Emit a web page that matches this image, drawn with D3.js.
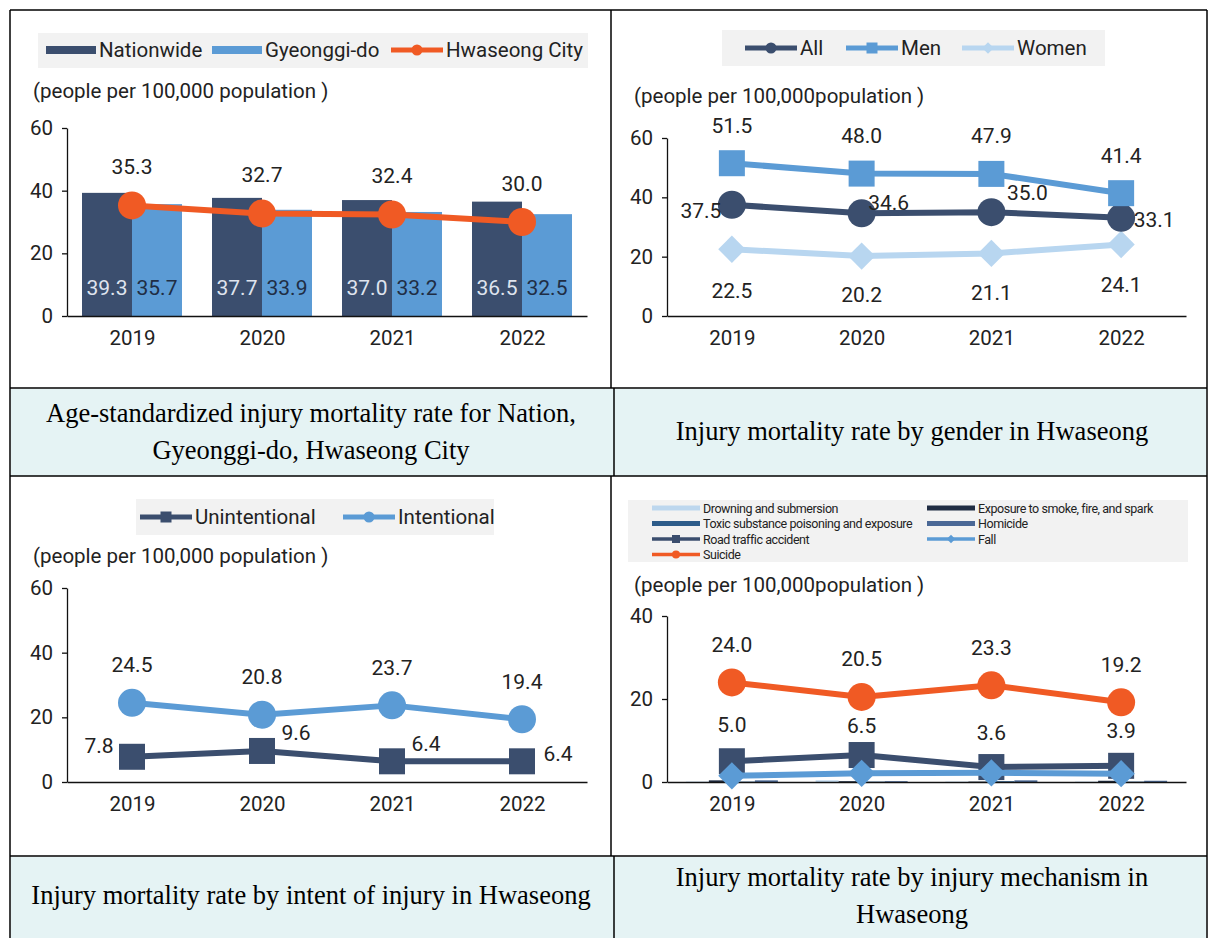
<!DOCTYPE html>
<html>
<head>
<meta charset="utf-8">
<script src="https://cdn.jsdelivr.net/npm/d3@7"></script>
<style>
  body { margin: 0; background: #fff; }
  svg text { font-family: Roboto, "Noto Sans", sans-serif; }
  .cap { font-family: "Liberation Serif", "Times New Roman", serif !important; font-size: 26.5px; fill: #000; }
</style>
</head>
<body>
<svg id="chart" width="1208" height="938"></svg>
<script>
// ---- data ----
var years = ["2019", "2020", "2021", "2022"];

// panel 1 : nation / gyeonggi / hwaseong
var nationwide = [39.3, 37.7, 37.0, 36.5];
var gyeonggi = [35.7, 33.9, 33.2, 32.5];
var hwaseong = [35.3, 32.7, 32.4, 30.0];

// panel 2 : by gender
var allRate = [37.5, 34.6, 35.0, 33.1];
var menRate = [51.5, 48.0, 47.9, 41.4];
var womenRate = [22.5, 20.2, 21.1, 24.1];

// panel 3 : by intent
var unintentional = [7.8, 9.6, 6.4, 6.4];
var intentional = [24.5, 20.8, 23.7, 19.4];

// panel 4 : by mechanism
var drowning = [0.1, 0.4, 0.1, 0.1];
var exposure = [0.4, 0.2, 0.1, 0.3];
var toxic = [0.1, 0.1, 0.2, 0.1];
var homicide = [0.4, 0.2, 0.4, 0.3];
var roadTraffic = [5.0, 6.5, 3.6, 3.9];
var fall = [1.5, 2.1, 2.2, 2.0];
var suicide = [24.0, 20.5, 23.3, 19.2];

var ticks60 = [0, 20, 40, 60];
var ticks40 = [0, 20, 40];

var DARK = "#3b4e6e", BLUE = "#5b9bd5", LIGHT = "#b8d6f0", ORANGE = "#f05a24";
var FS = 20.5;

var svg = d3.select("#chart");

// ---- table frame ----
svg.append("rect").attr("x", 11).attr("y", 389).attr("width", 1195).attr("height", 87).attr("fill", "#e5f3f4");
svg.append("rect").attr("x", 11).attr("y", 857).attr("width", 1195).attr("height", 81).attr("fill", "#e5f3f4");

var frame = svg.append("g").attr("stroke", "#000").attr("stroke-width", 1.5);
[[10, 10, 1207, 10], [10, 388, 1207, 388], [10, 476, 1207, 476], [10, 856, 1207, 856],
 [10, 10, 10, 938], [1207, 10, 1207, 938],
 [611, 10, 611, 388], [614, 388, 614, 476], [611, 476, 611, 856], [614, 856, 614, 938]]
  .forEach(function(l) {
    frame.append("line").attr("x1", l[0]).attr("y1", l[1]).attr("x2", l[2]).attr("y2", l[3]);
  });

// captions
function caption(lines, cx, cy) {
  var t = svg.append("text").attr("class", "cap").attr("text-anchor", "middle");
  lines.forEach(function(s, i) {
    t.append("tspan").attr("x", cx).attr("y", cy + (i - (lines.length - 1) / 2) * 37 + 8).text(s);
  });
}
caption(["Age-standardized injury mortality rate for Nation,", "Gyeonggi-do, Hwaseong City"], 311, 432);
caption(["Injury mortality rate by gender in Hwaseong"], 912, 432);
caption(["Injury mortality rate by intent of injury in Hwaseong"], 311, 896);
caption(["Injury mortality rate by injury mechanism in", "Hwaseong"], 912, 896);

// ---- helpers ----
function diamondPath(r) {
  return "M0," + (-r) + "L" + r + ",0L0," + r + "L" + (-r) + ",0Z";
}
function marker(g, type, x, y, r, color) {
  if (type == "circle") {
    g.append("circle").attr("cx", x).attr("cy", y).attr("r", r).attr("fill", color);
  } else if (type == "square") {
    g.append("rect").attr("x", x - r).attr("y", y - r).attr("width", 2 * r).attr("height", 2 * r).attr("fill", color);
  } else {
    g.append("path").attr("d", diamondPath(r * 1.05)).attr("transform", "translate(" + x + "," + y + ")").attr("fill", color);
  }
}

function axes(g, x, y, ticks) {
  var ya = g.append("g")
    .attr("transform", "translate(" + x.range()[0] + ",0)")
    .call(d3.axisLeft(y).tickValues(ticks).tickSize(5).tickSizeOuter(0).tickPadding(9));
  ya.selectAll("text").attr("font-size", FS).attr("fill", "#222");
  ya.selectAll("line, path").attr("stroke", "#111").attr("stroke-width", 1.3);

  var xa = g.append("g")
    .attr("transform", "translate(0," + y(0) + ")")
    .call(d3.axisBottom(x).tickSize(0).tickPadding(14));
  xa.selectAll("text").attr("font-size", FS).attr("fill", "#222");
  xa.select("path").attr("stroke", "#111").attr("stroke-width", 1.5);
}

function unitLabel(g, x, y, txt) {
  g.append("text").attr("x", x).attr("y", y).attr("font-size", FS).attr("fill", "#222").text(txt);
}

function series(g, x, y, vals, color, type, r, offs) {
  var line = d3.line()
    .x(function(d, i) { return x(years[i]); })
    .y(function(d) { return y(d); });
  g.append("path").datum(vals).attr("d", line)
    .attr("fill", "none").attr("stroke", color).attr("stroke-width", 6).attr("stroke-linejoin", "round");
  vals.forEach(function(v, i) {
    marker(g, type, x(years[i]), y(v), r, color);
  });
  if (offs) {
    g.selectAll(null).data(vals).enter().append("text")
      .attr("x", function(d, i) { return x(years[i]) + offs[i][0]; })
      .attr("y", function(d, i) { return y(d) + offs[i][1] + 7.5; })
      .attr("text-anchor", "middle").attr("font-size", 21).attr("fill", "#222")
      .text(function(d) { return d.toFixed(1); });
  }
}

function legendBox(g, x0, y0, w, h) {
  g.append("rect").attr("x", x0).attr("y", y0).attr("width", w).attr("height", h).attr("fill", "#f2f2f2");
}
function legendLine(g, x0, cy, color, type, label, fs, len, mr, sw) {
  len = len || 52; mr = mr || 5.5; fs = fs || FS; sw = sw || 5;
  g.append("line").attr("x1", x0).attr("x2", x0 + len).attr("y1", cy).attr("y2", cy)
    .attr("stroke", color).attr("stroke-width", sw);
  if (type) marker(g, type, x0 + len / 2, cy, mr, color);
  g.append("text").attr("x", x0 + len + 3).attr("y", cy + fs * 0.36).attr("font-size", fs).attr("fill", "#222").text(label);
}
function legendSwatch(g, x0, cy, color, label, fs, len, hgt) {
  len = len || 50; fs = fs || FS; hgt = hgt || 8;
  g.append("rect").attr("x", x0).attr("y", cy - hgt / 2).attr("width", len).attr("height", hgt).attr("fill", color);
  g.append("text").attr("x", x0 + len + 3).attr("y", cy + fs * 0.36).attr("font-size", fs).attr("fill", "#222").text(label);
}

// ---- panel 1 ----
(function() {
  var g = svg.append("g");
  var x = d3.scalePoint().domain(years).range([67, 587]).padding(0.5);
  var y = d3.scaleLinear().domain([0, 60]).range([316, 128]);
  legendBox(g, 38, 33, 550, 35);
  legendSwatch(g, 46, 50, DARK, "Nationwide");
  legendSwatch(g, 212, 50, BLUE, "Gyeonggi-do");
  legendLine(g, 391, 50, ORANGE, "circle", "Hwaseong City");
  unitLabel(g, 33, 98, "(people per 100,000 population )");

  var bw = 50;
  var bars = [{ vals: nationwide, color: DARK, dx: -bw, tc: "#dfe4ee" },
              { vals: gyeonggi, color: BLUE, dx: 0, tc: "#1f2d44" }];
  bars.forEach(function(b) {
    g.selectAll(null).data(b.vals).enter().append("rect")
      .attr("x", function(d, i) { return x(years[i]) + b.dx; })
      .attr("y", function(d) { return y(d); })
      .attr("width", bw)
      .attr("height", function(d) { return y(0) - y(d); })
      .attr("fill", b.color);
    g.selectAll(null).data(b.vals).enter().append("text")
      .attr("x", function(d, i) { return x(years[i]) + b.dx + bw / 2; })
      .attr("y", y(0) - 21)
      .attr("text-anchor", "middle").attr("font-size", 21).attr("fill", b.tc)
      .text(function(d) { return d.toFixed(1); });
  });
  axes(g, x, y, ticks60);
  series(g, x, y, hwaseong, ORANGE, "circle", 14, [[0, -39], [0, -39], [0, -39], [0, -39]]);
})();

// ---- panel 2 ----
(function() {
  var g = svg.append("g");
  var x = d3.scalePoint().domain(years).range([667, 1186]).padding(0.5);
  var y = d3.scaleLinear().domain([0, 60]).range([316, 138]);
  legendBox(g, 722, 30, 383, 36);
  legendLine(g, 745, 48, DARK, "circle", "All");
  legendLine(g, 846, 48, BLUE, "square", "Men");
  legendLine(g, 962, 48, LIGHT, "diamond", "Women");
  unitLabel(g, 634, 103, "(people per 100,000population )");
  axes(g, x, y, ticks60);
  series(g, x, y, womenRate, LIGHT, "diamond", 13, [[0, 41], [0, 38], [0, 39], [0, 40]]);
  series(g, x, y, allRate, DARK, "circle", 14, [[-31, 6], [27, -11], [36, -20], [33, 2]]);
  series(g, x, y, menRate, BLUE, "square", 13, [[0, -38], [0, -38], [0, -38], [0, -38]]);
})();

// ---- panel 3 ----
(function() {
  var g = svg.append("g");
  var x = d3.scalePoint().domain(years).range([67, 587]).padding(0.5);
  var y = d3.scaleLinear().domain([0, 60]).range([782, 588]);
  legendBox(g, 136, 499, 358, 36);
  legendLine(g, 140, 517, DARK, "square", "Unintentional");
  legendLine(g, 343, 517, BLUE, "circle", "Intentional");
  unitLabel(g, 33, 563, "(people per 100,000 population )");
  axes(g, x, y, ticks60);
  series(g, x, y, intentional, BLUE, "circle", 14, [[0, -38], [0, -38], [0, -38], [0, -38]]);
  series(g, x, y, unintentional, DARK, "square", 13, [[-33, -11], [34, -18], [34, -18], [36, -8]]);
})();

// ---- panel 4 ----
(function() {
  var g = svg.append("g");
  var x = d3.scalePoint().domain(years).range([667, 1186]).padding(0.5);
  var y = d3.scaleLinear().domain([0, 40]).range([782, 616]);
  legendBox(g, 628, 500, 560, 62);
  var fs = 12.5;
  var items = [
    { c: 0, r: 0, label: "Drowning and submersion", color: "#bdd7ee" },
    { c: 1, r: 0, label: "Exposure to smoke, fire, and spark", color: "#1f2c42" },
    { c: 0, r: 1, label: "Toxic substance poisoning and exposure", color: "#2d5c8a" },
    { c: 1, r: 1, label: "Homicide", color: "#4a6896" },
    { c: 0, r: 2, label: "Road traffic accident", color: DARK, type: "square" },
    { c: 1, r: 2, label: "Fall", color: BLUE, type: "diamond" },
    { c: 0, r: 3, label: "Suicide", color: ORANGE, type: "circle" }
  ];
  items.forEach(function(it) {
    var x0 = it.c == 0 ? 652 : 927;
    var cy = 508 + it.r * 15.5;
    var lg = g.append("g").attr("letter-spacing", -0.45);
    if (it.type) legendLine(lg, x0, cy, it.color, it.type, it.label, fs, 48, 4, 3.5);
    else legendSwatch(lg, x0, cy, it.color, it.label, fs, 48, 5);
  });
  unitLabel(g, 634, 592, "(people per 100,000population )");

  var bw = 23;
  var barSets = [{ vals: drowning, color: "#bdd7ee" }, { vals: exposure, color: "#1f2c42" },
                 { vals: toxic, color: "#2d5c8a" }, { vals: homicide, color: "#4a6896" }];
  barSets.forEach(function(b, k) {
    g.selectAll(null).data(b.vals).enter().append("rect")
      .attr("x", function(d, i) { return x(years[i]) - 2 * bw + k * bw; })
      .attr("y", function(d) { return y(d); })
      .attr("width", bw)
      .attr("height", function(d) { return y(0) - y(d); })
      .attr("fill", b.color);
  });
  axes(g, x, y, ticks40);
  series(g, x, y, suicide, ORANGE, "circle", 14, [[0, -38], [0, -38], [0, -38], [0, -38]]);
  series(g, x, y, roadTraffic, DARK, "square", 13, [[0, -37], [0, -30], [0, -35], [0, -35]]);
  series(g, x, y, fall, BLUE, "diamond", 13, null);
})();
</script>
</body>
</html>
